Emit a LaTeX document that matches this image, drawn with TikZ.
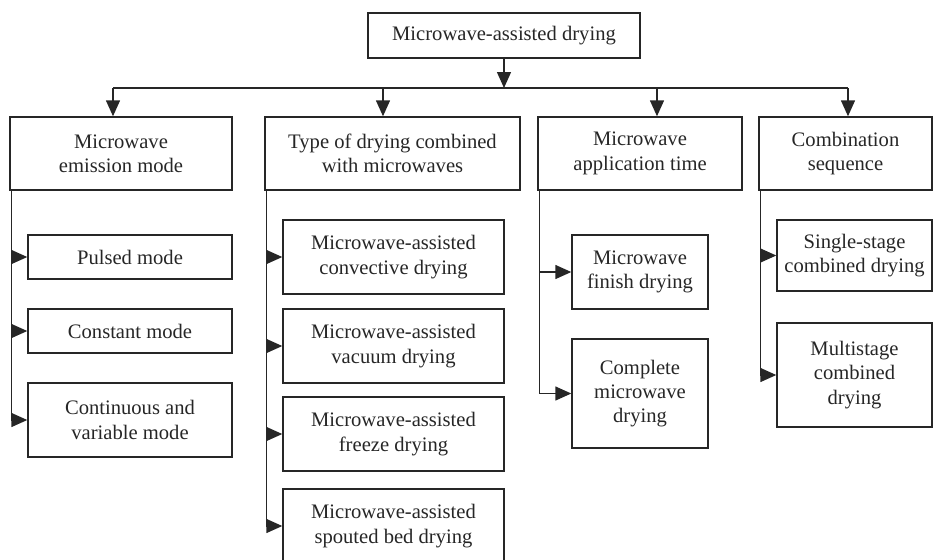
\documentclass[tikz,border=0pt]{standalone}
\usepackage{fontspec}
\setmainfont{Liberation Serif}
\usetikzlibrary{arrows.meta}
\tikzset{>={Triangle[length=8pt,width=7pt]}}
\tikzset{box/.style={draw, align=center, inner sep=1pt, font=\fontsize{10.3}{12.2}\selectfont}}

\begin{document}
\begin{tikzpicture}[x=0.5pt,y=-0.5pt,line width=0.7pt,color=black!85]
  \clip (0,0) rectangle (934,559);

  % top
  \node[box, minimum width=136pt, minimum height=22.5pt] (root) at (504,35.5) {Microwave-assisted drying};

  % first level
  \node[box, minimum width=111pt, minimum height=36.5pt] (mode) at (121,153.5) {Microwave\\emission mode};
  \node[box, minimum width=127.5pt, minimum height=36.5pt] (type) at (392.5,153.5) {Type of drying combined\\with microwaves};
  \node[box, minimum width=102pt, minimum height=36.5pt] (time) at (640,153.5) {Microwave\\application time};
  \node[box, minimum width=86.5pt, minimum height=36.5pt] (seq) at (845.5,153.5) {Combination\\sequence};

  % emission mode
  \node[box, minimum width=102pt, minimum height=22pt] (pulsed) at (130,257) {Pulsed mode};
  \node[box, minimum width=102pt, minimum height=22pt] (const) at (130,331) {Constant mode};
  \node[box, minimum width=102pt, minimum height=37pt] (cont) at (130,420) {Continuous and\\variable mode};

  % drying type
  \node[box, minimum width=110.5pt, minimum height=37pt] (conv) at (393.5,257) {Microwave-assisted\\convective drying};
  \node[box, minimum width=110.5pt, minimum height=37pt] (vac) at (393.5,346) {Microwave-assisted\\vacuum drying};
  \node[box, minimum width=110.5pt, minimum height=37pt] (freeze) at (393.5,434) {Microwave-assisted\\freeze drying};
  \node[box, minimum width=110.5pt, minimum height=37pt] (spout) at (393.5,526) {Microwave-assisted\\spouted bed drying};

  % application time
  \node[box, minimum width=68pt, minimum height=37pt] (finish) at (640,272) {Microwave\\finish drying};
  \node[box, minimum width=68pt, minimum height=54.5pt] (complete) at (640,393.5) {Complete\\microwave\\drying};

  % sequence
  \node[box, minimum width=77.5pt, minimum height=35.5pt] (single) at (854.5,255.5) {Single-stage\\combined drying};
  \node[box, minimum width=77.5pt, minimum height=52pt] (multi) at (854.5,375) {Multistage\\combined\\drying};

  % bus from the top
  \coordinate (b1) at (113,88);
  \coordinate (b2) at (383,88);
  \coordinate (b3) at (657,88);
  \coordinate (b4) at (848,88);
  \draw[->] (root.south) -- (root.south |- b1);
  \draw (b1) -- (b4);
  \draw[->] (b1) -- (b1 |- mode.north);
  \draw[->] (b2) -- (b2 |- type.north);
  \draw[->] (b3) -- (b3 |- time.north);
  \draw[->] (b4) -- (b4 |- seq.north);

  % spines
  \coordinate (sp1) at ([xshift=1pt]mode.south west);
  \coordinate (sp2) at ([xshift=1pt]type.south west);
  \coordinate (sp3) at ([xshift=1pt]time.south west);
  \coordinate (sp4) at ([xshift=1pt]seq.south west);
  \draw (sp1) -- (sp1 |- cont.west);
  \draw (sp2) -- (sp2 |- spout.west);
  \draw (sp3) -- (sp3 |- complete.west);
  \draw (sp4) -- (sp4 |- multi.west);

  \draw[->] (sp1 |- pulsed.west) -- (pulsed.west);
  \draw[->] (sp1 |- const.west) -- (const.west);
  \draw[->] (sp1 |- cont.west) -- (cont.west);

  \draw[->] (sp2 |- conv.west) -- (conv.west);
  \draw[->] (sp2 |- vac.west) -- (vac.west);
  \draw[->] (sp2 |- freeze.west) -- (freeze.west);
  \draw[->] (sp2 |- spout.west) -- (spout.west);

  \draw[->] (sp3 |- finish.west) -- (finish.west);
  \draw[->] (sp3 |- complete.west) -- (complete.west);

  \draw[->] (sp4 |- single.west) -- (single.west);
  \draw[->] (sp4 |- multi.west) -- (multi.west);
\end{tikzpicture}
\end{document}
